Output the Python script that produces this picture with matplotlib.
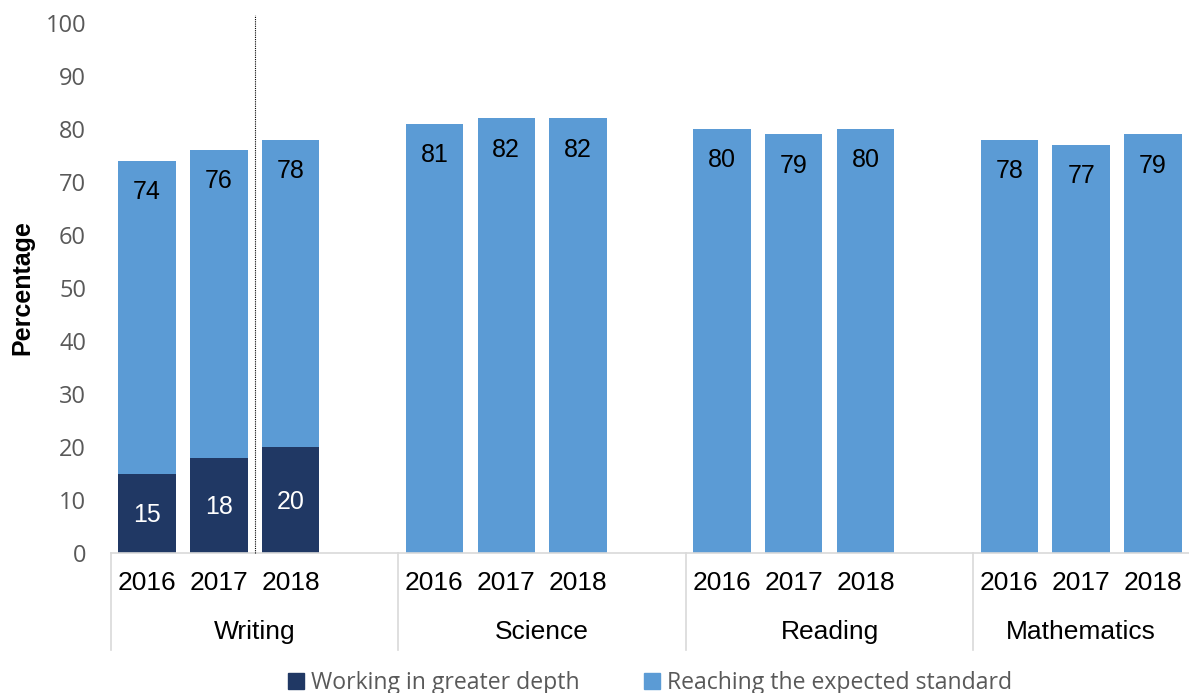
import matplotlib.pyplot as plt
import matplotlib.patches as mpatches
from matplotlib.lines import Line2D

subjects = ["Writing", "Science", "Reading", "Mathematics"]
years = ["2016", "2017", "2018"]
greater_depth = [15, 18, 20]  # Writing only
expected = {
    "Writing": [74, 76, 78],
    "Science": [81, 82, 82],
    "Reading": [80, 79, 80],
    "Mathematics": [78, 77, 79],
}
yticks = list(range(0, 101, 10))

DARK = "#203864"
LIGHT = "#5B9BD5"
GRID = "#D9D9D9"
TICK = "#595959"

fig = plt.figure(figsize=(11.89, 6.93), dpi=100)
ax = fig.add_axes([111 / 1189, 140 / 693, 1 - 111 / 1189, (553 - 23) / 693])

bw = 0.8
for gi, subj in enumerate(subjects):
    for yi in range(len(years)):
        x = gi * 4 + yi
        total = expected[subj][yi]
        if subj == "Writing":
            gd = greater_depth[yi]
            ax.bar(x, gd, width=bw, color=DARK, zorder=2)
            ax.bar(x, total - gd, bottom=gd, width=bw, color=LIGHT, zorder=2)
            ax.text(x, gd / 2 - 0.4, str(gd), ha="center", va="center",
                    color="white", fontsize=18, family="Liberation Sans")
        else:
            ax.bar(x, total, width=bw, color=LIGHT, zorder=2)
        ax.text(x, total - 5.9, str(total), ha="center", va="center",
                color="black", fontsize=18, family="Liberation Sans")

ax.set_xlim(-0.5, 14.5)
ax.set_ylim(0, 100)
ax.set_yticks(yticks)
ax.set_yticklabels([str(t) for t in yticks], color=TICK, fontsize=17, family="Open Sans")
ax.tick_params(axis="y", length=0, pad=18)
ax.set_xticks([])
for s in ["top", "right", "left"]:
    ax.spines[s].set_visible(False)
ax.spines["bottom"].set_color(GRID)
ax.spines["bottom"].set_linewidth(1.2)

fig.text(22 / 1189, 1 - 288 / 693, "Percentage", rotation=90, ha="center", va="center",
         fontsize=18, fontweight="bold", family="Liberation Sans")

# dotted separator within Writing
ax.add_line(Line2D([1.5, 1.5], [0, 101.5], color="black", linestyle=(0, (1, 1)),
                   linewidth=0.8, clip_on=False, zorder=3))

# category labels and separators below axis
trans = ax.get_xaxis_transform()
group_centers = [1.5, 5.5, 9.5, 13.0]  # last group is clipped at the figure edge
for gi, subj in enumerate(subjects):
    for yi, yr in enumerate(years):
        x = gi * 4 + yi
        ax.text(x, -30 / 530, yr, transform=trans, ha="center", va="center",
                fontsize=19, family="Liberation Sans", color="black")
    ax.text(group_centers[gi], -79 / 530, subj, transform=trans, ha="center", va="center",
            fontsize=19, family="Liberation Sans", color="black")
for sx in [-0.5, 3.5, 7.5, 11.5]:
    ax.add_line(Line2D([sx, sx], [0, -97 / 530], transform=trans, color=GRID,
                       linewidth=1.2, clip_on=False))

# legend
handles = [mpatches.Patch(color=DARK, label="Working in greater depth"),
           mpatches.Patch(color=LIGHT, label="Reaching the expected standard")]
fig.legend(handles=handles, loc="center", bbox_to_anchor=(650 / 1189, 1 - 683 / 693),
           ncol=2, frameon=False, handlelength=0.7, handleheight=0.7,
           handletextpad=0.3, columnspacing=2.8,
           prop={"family": "Open Sans", "size": 16.6}, labelcolor=TICK)

fig.savefig("out.png", dpi=100)
